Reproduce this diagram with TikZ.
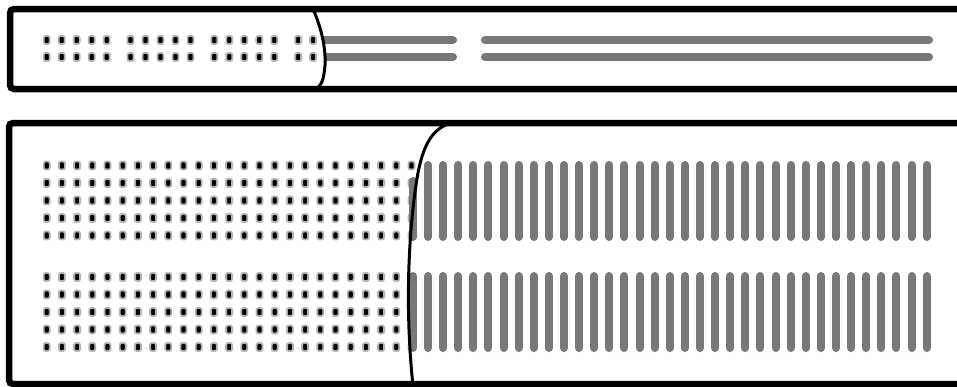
\documentclass[tikz,border=0pt]{standalone}
\usepackage{tikz}
\usepackage{xcolor}
\definecolor{stripgray}{RGB}{120,120,120}

\begin{document}
\begin{tikzpicture}[x=1pt, y=-1pt,
    panel/.style={draw, line width=6.5pt, rounded corners=4pt},
    seam/.style={draw, line width=3pt},
    dotcell/.style={fill=black, draw=gray!60, line width=1.8pt, rounded corners=2pt},
    strip/.style={draw=stripgray, line width=8pt, line cap=round}
]
    \useasboundingbox (0,0) rectangle (957,386);

    % top panel: dots left of the seam
    \begin{scope}
        \clip (0,0) -- (313,0) -- (313,9) .. controls (320,25) and (326,45) .. (325,65)
            .. controls (324,80) and (321,86) .. (316,89) -- (316,100) -- (0,100) -- cycle;
        \foreach \g in {0,...,3}
            \foreach \i in {0,...,4}
                \foreach \y in {40,57}
                    \path[dotcell] ({46.7+83.8*\g+15*\i-3},{\y-4}) rectangle +(6,8);
    \end{scope}
    % top panel: strips right of the seam
    \begin{scope}
        \clip (957,0) -- (313,0) -- (313,9) .. controls (320,25) and (326,45) .. (325,65)
            .. controls (324,80) and (321,86) .. (316,89) -- (316,100) -- (957,100) -- cycle;
        \foreach \y in {40,57} {
            \draw[strip] (310,\y) -- (453,\y);
            \draw[strip] (485,\y) -- (929,\y);
        }
    \end{scope}

    % bottom panel: dots left of the seam
    \begin{scope}
        \clip (0,100) -- (452,100) -- (452,123) .. controls (430,128) and (421,150) .. (416,185)
            .. controls (410,225) and (404,300) .. (413,386) -- (413,400) -- (0,400) -- cycle;
        \foreach \k in {0,...,24}
            \foreach \y in {165.5,183,200.5,218,235.5,277,294.5,312,329.5,347}
                \path[dotcell] ({46.7+15.2*\k-3},{\y-4}) rectangle +(6,8);
    \end{scope}
    % bottom panel: vertical strips
    \foreach \k in {0,...,33} {
        \draw[strip] ({428+15.11*\k},165) -- ++(0,72);
        \draw[strip] ({428+15.11*\k},276) -- ++(0,72);
    }
    \draw[strip] (413,181) -- (413,237);
    \draw[strip] (413,276) -- (413,348);

    % seams
    \draw[seam] (313,9) .. controls (320,25) and (326,45) .. (325,65)
        .. controls (324,80) and (321,86) .. (316,89);
    \draw[seam] (452,123) .. controls (430,128) and (421,150) .. (416,185)
        .. controls (410,225) and (404,300) .. (413,386);

    % outlines
    \draw[panel] (957,9) -- (10,9) -- (10,89) -- (957,89);
    \draw[panel] (957,123) -- (9,123) -- (9,384) -- (957,384);
\end{tikzpicture}
\end{document}
